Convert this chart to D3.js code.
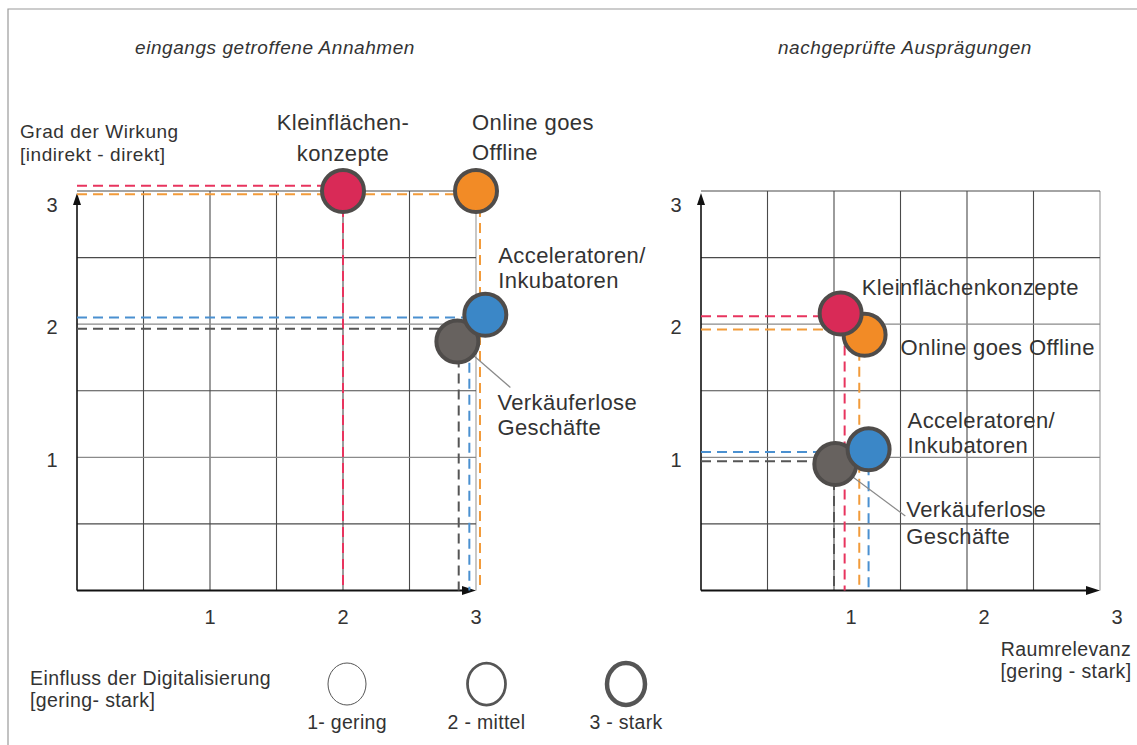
<!DOCTYPE html>
<html><head><meta charset="utf-8">
<script src="https://cdn.jsdelivr.net/npm/d3@7"></script>
<style>
body{margin:0;background:#fff;}
svg{display:block;}
text{font-family:'Liberation Sans',Arial,sans-serif;fill:#333;}
</style>
</head><body>
<svg id="c" width="1137" height="745"></svg>
<script>
// ---------- data ----------
const categories = ["Kleinflächenkonzepte", "Online goes Offline", "Acceleratoren/Inkubatoren", "Verkäuferlose Geschäfte"];
const fillColors = ["#d92a57", "#f28b26", "#3b87c7", "#67625f"];
const guideColors = ["#e8345e", "#f29b3a", "#4a90d0", "#555555"];
// left panel: eingangs getroffene Annahmen (x = Raumrelevanz, y = Grad der Wirkung)
const leftX = [2.0, 3.0, 3.07, 2.86];
const leftY = [3.0, 3.0, 2.07, 1.87];
const leftGuideX = [2.0, 3.03, 2.95, 2.87];
const leftGuideY = [3.04, 2.975, 2.05, 1.965];
// right panel: nachgeprüfte Ausprägungen
const rightX = [1.05, 1.23, 1.26, 1.01];
const rightY = [2.08, 1.92, 1.06, 0.95];
const rightGuideX = [1.08, 1.19, 1.26, 1.0];
const rightGuideY = [2.06, 1.96, 1.04, 0.97];
const tickValues = [1, 2, 3];
const tickLabels = ["1", "2", "3"];
const legendLevels = [1, 2, 3];
const legendLabels = ["1- gering", "2 - mittel", "3 - stark"];
const drawOrder = [1, 0, 3, 2];

// ---------- drawing ----------
const svg = d3.select("#c");
svg.append("rect").attr("width", 1137).attr("height", 745).attr("fill", "#fff");
// outer frame
svg.append("path").attr("d", "M8,745 V9 H1137").attr("fill", "none").attr("stroke", "#9a9a9a").attr("stroke-width", 1.2);

// multi-line text as one text element with tspans
function multiText(parent, x, y, lines, gap, size, anchor, fill, ls) {
  const t = parent.append("text").attr("x", x).attr("y", y)
    .attr("text-anchor", anchor || "start").style("font-size", size + "px")
    .style("letter-spacing", (ls || 0) + "px").attr("fill", fill || "#333");
  lines.forEach((s, k) => {
    t.append("tspan").attr("x", x).attr("dy", k === 0 ? 0 : gap).text(s);
  });
  return t;
}

svg.append("text").attr("x", 275).attr("y", 54).attr("text-anchor", "middle")
  .style("font-style", "italic").style("font-size", "19px").style("letter-spacing", "0.55px").attr("fill", "#444").text("eingangs getroffene Annahmen");
svg.append("text").attr("x", 905).attr("y", 54).attr("text-anchor", "middle")
  .style("font-style", "italic").style("font-size", "19px").style("letter-spacing", "0.6px").attr("fill", "#444").text("nachgeprüfte Ausprägungen");

function panel(cfg) {
  const x = d3.scaleLinear().domain([0, 3]).range([cfg.x0, cfg.x0 + 399]);
  const y = d3.scaleLinear().domain([0, 3]).range([590.5, 191]);
  const g = svg.append("g");
  const gridVals = d3.range(0, 3.01, 0.5);
  // grid
  g.selectAll(".gv").data(gridVals.slice(1)).join("line")
    .attr("x1", d => x(d)).attr("x2", d => x(d)).attr("y1", y(0)).attr("y2", y(3))
    .attr("stroke", d => d === 3 ? "#9a9a9a" : "#4a4a4a").attr("stroke-width", 1.1);
  g.selectAll(".gh").data(gridVals.slice(1)).join("line")
    .attr("x1", x(0)).attr("x2", x(3)).attr("y1", d => y(d)).attr("y2", d => y(d))
    .attr("stroke", d => (d === 1 || d === 2) ? "#8a8a8a" : "#4a4a4a").attr("stroke-width", 1.1);
  // axes with arrows
  g.append("line").attr("x1", x(0)).attr("x2", x(0)).attr("y1", y(0)).attr("y2", y(3) + 8)
    .attr("stroke", "#111").attr("stroke-width", 1.6);
  g.append("path").attr("d", `M${x(0)},${y(3) + 2} l-4,12 h8 z`).attr("fill", "#111");
  g.append("line").attr("x1", x(0)).attr("x2", x(3) - 8).attr("y1", y(0)).attr("y2", y(0))
    .attr("stroke", "#111").attr("stroke-width", 1.8);
  g.append("path").attr("d", `M${x(3)},${y(0)} l-14,-4.5 v9 z`).attr("fill", "#111");
  // tick labels
  g.selectAll(".yt").data(tickValues).join("text")
    .attr("x", x(0) - 25).attr("y", d => y(d) + (d === 3 ? 21 : 10)).attr("text-anchor", "middle")
    .style("font-size", "20px").attr("fill", "#444").text((d, i) => tickLabels[i]);
  g.selectAll(".xt").data(tickValues).join("text")
    .attr("x", d => x(d) + cfg.xTickShift).attr("y", y(0) + 33).attr("text-anchor", "middle")
    .style("font-size", "20px").attr("fill", "#444").text((d, i) => tickLabels[i]);
  // dashed guide lines
  const n = categories.length;
  for (let i = 0; i < n; i++) {
    const cx = x(cfg.px[i]), cy = y(cfg.py[i]);
    g.append("line").attr("x1", x(0)).attr("x2", cx).attr("y1", y(cfg.gy[i])).attr("y2", y(cfg.gy[i]))
      .attr("stroke", guideColors[i]).attr("stroke-width", 2).attr("stroke-dasharray", "10,6");
    g.append("line").attr("x1", x(cfg.gx[i])).attr("x2", x(cfg.gx[i])).attr("y1", cy).attr("y2", y(0))
      .attr("stroke", guideColors[i]).attr("stroke-width", 2).attr("stroke-dasharray", "10,6");
  }
  // leader line for Verkäuferlose
  {
    const i = 3, cx = x(cfg.px[i]), cy = y(cfg.py[i]);
    const L = cfg.leader;
    g.append("line").attr("x1", cx).attr("y1", cy).attr("x2", cx + L[0]).attr("y2", cy + L[1])
      .attr("stroke", "#8a8a8a").attr("stroke-width", 1.2);
  }
  // circles
  drawOrder.forEach(i => {
    g.append("circle").attr("cx", x(cfg.px[i])).attr("cy", y(cfg.py[i])).attr("r", 21)
      .attr("fill", fillColors[i]).attr("stroke", "#4f4c4a").attr("stroke-width", 4);
  });
  // labels
  cfg.labels.forEach((lab, i) => {
    const cx = x(cfg.px[i]), cy = y(cfg.py[i]);
    multiText(g, cx + lab.dx, cy + lab.dy, lab.lines, lab.gap || 0, 22, lab.anchor, "#222", 0.4);
  });
  return {x, y};
}

panel({
  x0: 77, px: leftX, py: leftY, gx: leftGuideX, gy: leftGuideY, xTickShift: 0,
  leader: [53, 46],
  labels: [
    {lines: ["Kleinflächen-", "konzepte"], dx: 0, dy: -61, gap: 31, anchor: "middle"},
    {lines: ["Online goes", "Offline"], dx: -4, dy: -61, gap: 30},
    {lines: ["Acceleratoren/", "Inkubatoren"], dx: 13, dy: -52, gap: 25},
    {lines: ["Verkäuferlose", "Geschäfte"], dx: 40, dy: 69, gap: 25}
  ]
});
panel({
  x0: 701, px: rightX, py: rightY, gx: rightGuideX, gy: rightGuideY, xTickShift: 17,
  leader: [70, 52],
  labels: [
    {lines: ["Kleinflächenkonzepte"], dx: 21, dy: -19},
    {lines: ["Online goes Offline"], dx: 36, dy: 20},
    {lines: ["Acceleratoren/", "Inkubatoren"], dx: 39, dy: -21, gap: 25},
    {lines: ["Verkäuferlose", "Geschäfte"], dx: 71, dy: 53, gap: 27}
  ]
});

// axis titles
multiText(svg, 20, 138, ["Grad der Wirkung", "[indirekt - direkt]"], 23, 19, "start", "#333", 0.55);
multiText(svg, 1066, 656, ["Raumrelevanz", "[gering - stark]"], 22, 19.5, "middle", "#333", 0.4);

// legend
multiText(svg, 30, 685, ["Einfluss der Digitalisierung", "[gering- stark]"], 22, 19.5, "start", "#333", 0.4);
const lx = d3.scalePoint().domain(legendLevels).range([347, 626]);
const lw = d3.scaleLinear().domain([1, 3]).range([1, 4.5]);
svg.selectAll(".lg").data(legendLevels).join("ellipse")
  .attr("cx", d => lx(d)).attr("cy", 684).attr("rx", 19).attr("ry", 21)
  .attr("fill", "none").attr("stroke", "#555").attr("stroke-width", d => lw(d));
svg.selectAll(".lt").data(legendLevels).join("text")
  .attr("x", d => lx(d)).attr("y", 729).attr("text-anchor", "middle")
  .style("font-size", "19.5px").style("letter-spacing", "0.3px").attr("fill", "#333").text((d, i) => legendLabels[i]);
</script>
</body></html>
